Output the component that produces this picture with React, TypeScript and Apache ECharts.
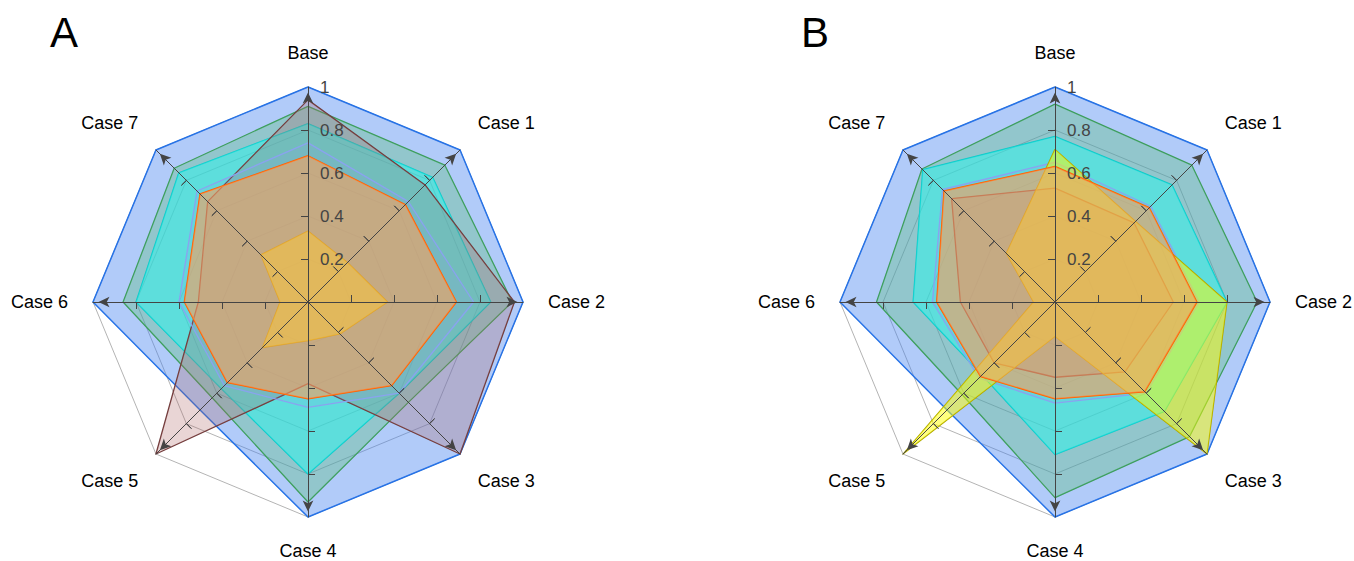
import React, { useEffect, useRef } from 'react';
import * as echarts from 'echarts';

const FONT = '"Liberation Sans", Arial, Helvetica, sans-serif';

// Axes in clockwise order starting at the top
const axisNames = ['Base', 'Case 1', 'Case 2', 'Case 3', 'Case 4', 'Case 5', 'Case 6', 'Case 7'];
const tickLabelValues = [0.2, 0.4, 0.6, 0.8, 1];
const tickValues = [0.2, 0.4, 0.6, 0.8];
const panelLetters = ['A', 'B'];
const seriesNames = ['Blue', 'Green', 'Cyan', 'Brown', 'Lavender', 'Yellow', 'Orange'];

// Panel A values (Base, Case 1 ... Case 7)
const aBlue = [1, 1, 1, 1, 1, 0.71, 1, 1];
const aGreen = [0.91, 0.9, 0.95, 0.66, 0.93, 0.63, 0.86, 0.88];
const aCyan = [0.83, 0.82, 0.85, 0.6, 0.8, 0.57, 0.8, 0.85];
const aBrown = [0.94, 0.77, 0.96, 1.0, 0.38, 1.0, 0.51, 0.66];
const aLavender = [0.74, 0.66, 0.77, 0.6, 0.49, 0.55, 0.6, 0.73];
const aYellow = [0.33, 0.26, 0.37, 0.21, 0.18, 0.3, 0.13, 0.31];
const aOrange = [0.68, 0.64, 0.69, 0.55, 0.45, 0.53, 0.575, 0.71];

// Panel B values (Base, Case 1 ... Case 7)
const bBlue = [1, 1, 1, 1, 1, 0.71, 1, 1];
const bGreen = [0.92, 0.9, 0.94, 0.885, 0.91, 0.61, 0.83, 0.875];
const bCyan = [0.77, 0.77, 0.8, 0.72, 0.71, 0.48, 0.66, 0.87];
const bBrown = [0.53, 0.52, 0.55, 0.46, 0.35, 0.4, 0.44, 0.68];
const bLavender = [0.65, 0.63, 0.67, 0.6, 0.47, 0.5, 0.57, 0.74];
const bYellow = [0.71, 0.53, 0.8, 1.0, 0.16, 1.0, 0.1, 0.32];
const bOrange = [0.63, 0.62, 0.66, 0.59, 0.45, 0.49, 0.55, 0.73];

const palette = [
  { line: '#1f6fe5', fill: 'rgba(70,130,240,0.42)', width: 1.5 },
  { line: '#3a9a5a', fill: 'rgba(90,190,120,0.35)', width: 1.3 },
  { line: '#10c8c8', fill: 'rgba(40,245,235,0.5)', width: 1.3 },
  { line: '#6e3a3a', fill: 'rgba(175,100,100,0.27)', width: 1.3 },
  { line: '#8aa4f0', fill: 'rgba(150,150,235,0.12)', width: 1.3 },
  { line: '#a8a000', fill: 'rgba(255,255,0,0.5)', width: 1.2 },
  { line: '#ff6000', fill: 'rgba(250,160,90,0.6)', width: 1.5 },
];

const panelData = [
  [aBlue, aGreen, aCyan, aBrown, aLavender, aYellow, aOrange],
  [bBlue, bGreen, bCyan, bBrown, bLavender, bYellow, bOrange],
];

// ECharts places indicators counter-clockwise, so reverse after the first one
const order = [0, 7, 6, 5, 4, 3, 2, 1];
const reorder = (a: number[]) => order.map((i) => a[i]);

const nameStyles: any[] = [
  {},
  { verticalAlign: 'bottom' },
  {},
  { verticalAlign: 'top' },
  {},
  { verticalAlign: 'top' },
  {},
  { verticalAlign: 'bottom' },
];

const centersX = [308, 1055];
const CY = 302;
const R = 215;
const letterLeft = [50, 801];

function baseRadar(cx: number) {
  return {
    center: [cx, CY],
    radius: R,
    startAngle: 90,
    shape: 'polygon',
    splitNumber: 5,
    z: 0,
    indicator: order.map((i) => ({
      name: axisNames[i],
      min: 0,
      max: 1,
      nameTextStyle: nameStyles[i],
    })),
    axisName: { show: true, color: '#000', fontSize: 18, fontFamily: FONT },
    axisNameGap: 25,
    splitLine: { show: true, lineStyle: { color: '#b4b4b4', width: 1 } },
    splitArea: { show: false },
    axisLine: { show: false },
    axisTick: { show: false },
    axisLabel: { show: false },
  };
}

function axisRadar(cx: number, inside: boolean) {
  return {
    center: [cx, CY],
    radius: R,
    startAngle: 90,
    shape: 'polygon',
    splitNumber: 5,
    z: 5,
    indicator: order.map((i, k) => ({
      name: axisNames[i],
      min: 0,
      max: 1,
      axisLabel:
        k === 0 && !inside
          ? {
              show: true,
              customValues: tickLabelValues,
              color: '#444',
              fontSize: 17,
              fontFamily: FONT,
              margin: -12,
              align: 'left',
              verticalAlign: 'middle',
              formatter: (v: number) => String(v),
            }
          : { show: false },
    })),
    axisName: { show: false },
    splitLine: { show: false },
    splitArea: { show: false },
    axisLine: inside
      ? { show: false }
      : {
          show: true,
          symbol: ['none', 'arrow'],
          symbolSize: [8, 11],
          symbolOffset: [0, -5.5],
          lineStyle: { color: '#444', width: 1 },
        },
    axisTick: {
      show: true,
      inside,
      length: 7,
      customValues: tickValues,
      lineStyle: { color: '#444', width: 1 },
    },
  };
}

export default function App() {
  const ref = useRef<HTMLDivElement>(null);
  useEffect(() => {
    if (!ref.current) return;
    const chart = echarts.init(ref.current, undefined, { renderer: 'svg' });
    const radars: any[] = [];
    centersX.forEach((cx) => {
      radars.push(baseRadar(cx));
      radars.push(axisRadar(cx, false));
      radars.push(axisRadar(cx, true));
    });
    const series = panelData.map((sets, p) => ({
      type: 'radar',
      radarIndex: p * 3,
      symbol: 'none',
      z: 2,
      data: sets.map((vals, s) => ({
        name: seriesNames[s],
        value: reorder(vals),
        lineStyle: { color: palette[s].line, width: palette[s].width },
        areaStyle: { color: palette[s].fill, opacity: 1 },
        itemStyle: { color: palette[s].line },
      })),
    }));
    chart.setOption({
      animation: false,
      title: panelLetters.map((t, i) => ({
        text: t,
        left: letterLeft[i],
        top: 11,
        padding: 0,
        textStyle: { fontSize: 42, fontWeight: 'normal', color: '#000', fontFamily: FONT },
      })),
      radar: radars,
      series,
    });
    return () => chart.dispose();
  }, []);
  return (
    <div
      ref={ref}
      style={{ position: 'absolute', left: 0, top: 0, width: 1354, height: 561, background: '#fff' }}
    />
  );
}
